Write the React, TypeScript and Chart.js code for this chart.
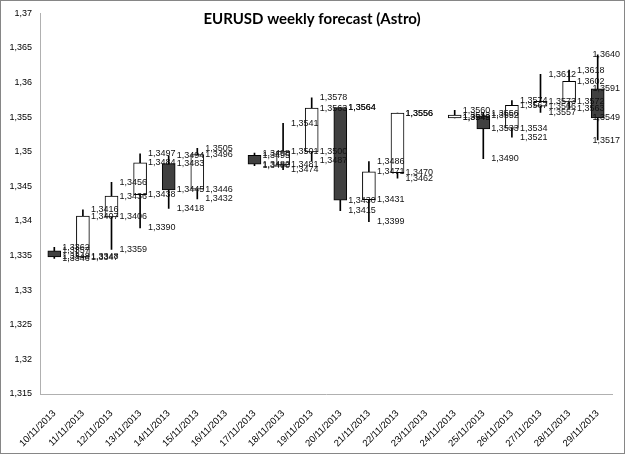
import React, { useEffect, useRef } from 'react';
import { Chart, registerables } from 'chart.js';

Chart.register(...registerables);

const dates = [
  '10/11/2013', '11/11/2013', '12/11/2013', '13/11/2013', '14/11/2013',
  '15/11/2013', '16/11/2013', '17/11/2013', '18/11/2013', '19/11/2013',
  '20/11/2013', '21/11/2013', '22/11/2013', '23/11/2013', '24/11/2013',
  '25/11/2013', '26/11/2013', '27/11/2013', '28/11/2013', '29/11/2013',
];

const opens: (number | null)[] = [
  1.3357, 1.3348, 1.3406, 1.3438, 1.3483, 1.3446, null, 1.3495, 1.3481, 1.35,
  1.3564, 1.3431, 1.347, null, 1.3549, 1.3552, 1.3534, 1.3566, 1.3572, 1.3591,
];
const highs: (number | null)[] = [
  1.3362, 1.3416, 1.3456, 1.3497, 1.3494, 1.3505, null, 1.3498, 1.3541, 1.3578,
  1.3564, 1.3486, 1.3556, null, 1.356, 1.3556, 1.3574, 1.3612, 1.3618, 1.364,
];
const lows: (number | null)[] = [
  1.3346, 1.3347, 1.3359, 1.339, 1.3418, 1.3432, null, 1.348, 1.3474, 1.3487,
  1.3415, 1.3399, 1.3462, null, 1.3549, 1.349, 1.3521, 1.3557, 1.3563, 1.3517,
];
const closes: (number | null)[] = [
  1.3348, 1.3407, 1.3436, 1.3484, 1.3445, 1.3496, null, 1.3482, 1.3501, 1.3563,
  1.343, 1.3471, 1.3556, null, 1.3553, 1.3533, 1.3567, 1.3573, 1.3602, 1.3549,
];

const yMin = 1.315;
const yMax = 1.37;
const yStep = 0.005;
const title = 'EURUSD weekly forecast (Astro)';

const fmtLabel = (v: number) => v.toFixed(4).replace('.', ',');
const fmtTick = (v: number) => parseFloat(Number(v).toFixed(3)).toString().replace('.', ',');

export default function App() {
  const ref = useRef<HTMLCanvasElement>(null);

  useEffect(() => {
    const canvas = ref.current;
    if (!canvas) return;

    const bodyData = opens.map((o, i) =>
      o == null || closes[i] == null ? null : [o, closes[i] as number]
    );
    const wickData = lows.map((l, i) =>
      l == null || highs[i] == null ? null : [l, highs[i] as number]
    );
    const bodyColors = opens.map((o, i) =>
      o == null || closes[i] == null ? '#ffffff' : (closes[i] as number) >= o ? '#ffffff' : '#404040'
    );

    const framePlugin = {
      id: 'frame',
      beforeDraw(chart: any) {
        const ctx = chart.ctx;
        ctx.save();
        ctx.fillStyle = '#ffffff';
        ctx.fillRect(0, 0, chart.width, chart.height);
        ctx.restore();
      },
      afterDraw(chart: any) {
        const ctx = chart.ctx;
        ctx.save();
        ctx.strokeStyle = '#868686';
        ctx.lineWidth = 1;
        ctx.strokeRect(0.5, 0.5, chart.width - 1, chart.height - 1);
        ctx.fillStyle = '#000';
        ctx.font = 'bold 15px Lato, "Liberation Sans", sans-serif';
        ctx.textAlign = 'center';
        ctx.textBaseline = 'middle';
        ctx.fillText(title, 312, 19);
        ctx.restore();
      },
    };

    const labelPlugin = {
      id: 'ohlcLabels',
      afterDatasetsDraw(chart: any) {
        const ctx = chart.ctx;
        const xs = chart.scales.x;
        const ys = chart.scales.y;
        ctx.save();
        ctx.font = '9px "Liberation Sans", sans-serif';
        ctx.fillStyle = '#111';
        ctx.textAlign = 'left';
        ctx.textBaseline = 'middle';
        dates.forEach((_, i) => {
          const series = [opens[i], highs[i], lows[i], closes[i]];
          const cx = xs.getPixelForValue(i);
          series.forEach((v) => {
            if (v == null) return;
            const t = fmtLabel(v);
            const w = ctx.measureText(t).width;
            const x = Math.min(cx + 8, chart.width - w - 5);
            ctx.fillText(t, x, ys.getPixelForValue(v));
          });
        });
        ctx.restore();
      },
    };

    const chart = new Chart(canvas, {
      type: 'bar',
      data: {
        labels: dates,
        datasets: [
          {
            label: 'body',
            data: bodyData as any,
            backgroundColor: bodyColors,
            borderColor: '#000',
            borderWidth: 1,
            borderSkipped: false,
            barThickness: 13,
            grouped: false,
            order: 0,
          } as any,
          {
            label: 'wick',
            data: wickData as any,
            backgroundColor: '#000',
            borderWidth: 0,
            barThickness: 1,
            grouped: false,
            order: 1,
          } as any,
        ],
      },
      options: {
        responsive: false,
        animation: false,
        devicePixelRatio: 1,
        layout: { padding: { left: 0, right: 13, top: 11, bottom: 0 } },
        plugins: {
          legend: { display: false },
          tooltip: { enabled: false },
          title: { display: false },
        },
        scales: {
          x: {
            grid: { display: false, drawTicks: false },
            border: { display: true, color: '#b0b0b0' },
            ticks: {
              autoSkip: false,
              minRotation: 45,
              maxRotation: 45,
              color: '#000',
              padding: 14,
              font: { family: '"Liberation Sans", sans-serif', size: 9.5 },
            },
            afterFit: (s: any) => {
              s.height = 60;
            },
          },
          y: {
            min: yMin,
            max: yMax,
            grid: { display: false, drawTicks: false },
            border: { display: true, color: '#b0b0b0' },
            ticks: {
              stepSize: yStep,
              color: '#000',
              padding: 8,
              font: { family: '"Liberation Sans", sans-serif', size: 9 },
              callback: (v: any) => fmtTick(Number(v)),
            },
            afterFit: (s: any) => {
              s.width = 40;
            },
          },
        },
      } as any,
      plugins: [framePlugin, labelPlugin],
    });

    return () => chart.destroy();
  }, []);

  return (
    <div style={{ position: 'absolute', left: 0, top: 0, width: 625, height: 454, background: '#fff' }}>
      <canvas ref={ref} width={625} height={454} style={{ display: 'block', width: 625, height: 454 }} />
    </div>
  );
}
